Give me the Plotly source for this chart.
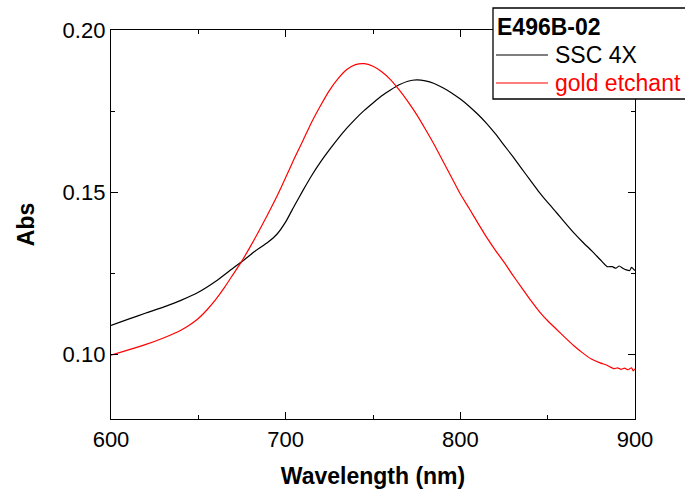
import plotly.graph_objects as go

# SSC 4X (black)
wl_ssc = [600, 610, 620, 630, 640, 650, 660, 670, 676, 682, 690, 695, 700, 705, 710, 715,
          720, 725, 730, 735, 740, 745, 750, 755, 760, 765, 770, 775, 780, 785, 790, 795,
          800, 805, 810, 815, 820, 825, 830, 835, 840, 845, 850, 855, 860, 865, 870, 875,
          880, 884, 887, 889, 891, 893, 895, 897, 898, 900]
abs_ssc = [0.1089, 0.1108, 0.1127, 0.1145, 0.1166, 0.1191, 0.1225, 0.1266, 0.1290, 0.1316,
           0.1346, 0.1370, 0.1408, 0.1458, 0.1506, 0.1552, 0.1593, 0.1630, 0.1665, 0.1697,
           0.1726, 0.1752, 0.1775, 0.1797, 0.1815, 0.1831, 0.1842, 0.1846, 0.1843, 0.1835,
           0.1822, 0.1806, 0.1787, 0.1765, 0.1740, 0.1712, 0.1680, 0.1645, 0.1610, 0.1573,
           0.1537, 0.1501, 0.1468, 0.1437, 0.1405, 0.1374, 0.1346, 0.1320, 0.1292, 0.1270,
           0.1270, 0.1265, 0.1272, 0.1265, 0.1260, 0.1258, 0.1268, 0.1258]

# gold etchant (red)
wl_gold = [600, 610, 620, 630, 640, 645, 650, 655, 660, 665, 670, 675, 680, 685, 690, 695,
           700, 705, 710, 715, 720, 725, 730, 735, 740, 745, 750, 755, 760, 765, 770, 775,
           780, 785, 790, 795, 800, 805, 810, 815, 820, 825, 830, 835, 840, 845, 850, 855,
           860, 865, 870, 875, 880, 884, 886, 888, 890, 892, 894, 896, 898, 899, 900]
abs_gold = [0.0997, 0.1013, 0.1030, 0.1050, 0.1074, 0.1090, 0.1110, 0.1137, 0.1169, 0.1206,
            0.1247, 0.1288, 0.1334, 0.1383, 0.1434, 0.1487, 0.1545, 0.1604, 0.1660, 0.1717,
            0.1767, 0.1813, 0.1850, 0.1878, 0.1893, 0.1896, 0.1888, 0.1871, 0.1847, 0.1815,
            0.1779, 0.1739, 0.1694, 0.1647, 0.1596, 0.1545, 0.1494, 0.1450, 0.1405, 0.1361,
            0.1321, 0.1284, 0.1244, 0.1206, 0.1168, 0.1133, 0.1103, 0.1077, 0.1051, 0.1026,
            0.1004, 0.0985, 0.0973, 0.0966, 0.0960, 0.0955, 0.0958, 0.0953, 0.0957, 0.0952,
            0.0958, 0.0948, 0.0955]

x_ticks = [600, 700, 800, 900]
y_ticks = [0.10, 0.15, 0.20]
y_tick_labels = ["0.10", "0.15", "0.20"]

legend_title = "E496B-02"
series_names = ["SSC 4X", "gold etchant"]
series_colors = ["black", "#ff0000"]

FONT = "Liberation Sans, Arial, sans-serif"

fig = go.Figure()
for wl, ab, nm, col in [(wl_ssc, abs_ssc, series_names[0], series_colors[0]),
                        (wl_gold, abs_gold, series_names[1], series_colors[1])]:
    fig.add_trace(go.Scatter(x=wl, y=ab, mode="lines", name=nm, showlegend=False,
                             line=dict(color=col, width=1.2, shape="spline", smoothing=0.5)))

axis_common = dict(showline=True, linecolor="black", linewidth=1.3, mirror="ticks",
                   ticks="inside", ticklen=7, tickwidth=1.2, tickcolor="black",
                   showgrid=False, zeroline=False,
                   tickfont=dict(family=FONT, size=22, color="black"))

fig.update_xaxes(range=[600, 900], tickvals=x_ticks,
                 minor=dict(dtick=50, tick0=600, ticks="inside", ticklen=4, tickcolor="black"),
                 title=dict(text="<b>Wavelength (nm)</b>", font=dict(family=FONT, size=23, color="black"),
                            standoff=17),
                 **axis_common)
fig.update_yaxes(range=[0.08, 0.20], tickvals=y_ticks, ticktext=y_tick_labels,
                 minor=dict(dtick=0.025, tick0=0.075, ticks="inside", ticklen=4, tickcolor="black"),
                 title=dict(text="<b>Abs</b>", font=dict(family=FONT, size=23, color="black"),
                            standoff=21),
                 **axis_common)

# manual legend box (paper coordinates of the plot area)
L, R, T, B = 111, 635, 30, 419
def px(x):
    return (x - L) / (R - L)
def py(y):
    return (B - y) / (B - T)

fig.add_shape(type="rect", xref="paper", yref="paper", x0=px(493), x1=px(720),
              y0=py(99), y1=py(8), line=dict(color="black", width=1.3), fillcolor="white",
              layer="above")
fig.add_annotation(xref="paper", yref="paper", x=px(495), y=py(27), xanchor="left",
                   yanchor="middle", showarrow=False, text="<b>" + legend_title + "</b>",
                   font=dict(family=FONT, size=23, color="black"))
for i, (nm, col) in enumerate(zip(series_names, series_colors)):
    yy = 55 + 28 * i
    fig.add_shape(type="line", xref="paper", yref="paper", x0=px(496), x1=px(548),
                  y0=py(yy), y1=py(yy), line=dict(color=col, width=1.2), layer="above")
    fig.add_annotation(xref="paper", yref="paper", x=px(553), y=py(yy), xanchor="left",
                       yanchor="middle", showarrow=False, text=nm,
                       font=dict(family=FONT, size=23, color=col))

fig.update_layout(
    width=685, height=493,
    margin=dict(l=L, r=685 - R, t=T, b=493 - B, autoexpand=False),
    paper_bgcolor="white", plot_bgcolor="white",
    font=dict(family=FONT, color="black"),
    showlegend=False,
)

fig.write_html("out.html")
